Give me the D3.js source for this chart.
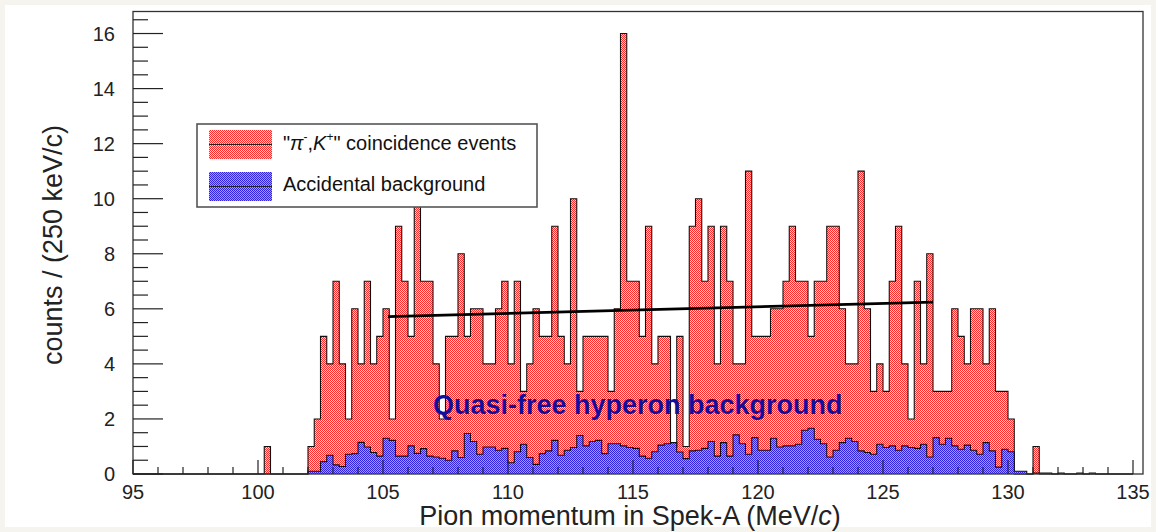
<!DOCTYPE html>
<html>
<head>
<meta charset="utf-8">
<script src="https://cdn.jsdelivr.net/npm/d3@7"></script>
<style>
  body { margin: 0; background: #f6f4ef; }
  svg { display: block; }
</style>
</head>
<body>
<div id="chart"></div>
<script>
// histogram binning (MeV/c)
const axisMin = 95
const axisMax = 135.4
const histMax = 135
const binWidth = 0.25
const firstBin = 100.0 // first listed bin; bins below it are empty

// "pi-,K+" coincidence events, per 250 keV/c bin, from 100.0 MeV/c
const coincidence = [
  0, 1, 0, 0, 0, 0, 0, 0, 1, 2,
  5, 4, 7, 4, 2, 6, 4, 7, 4, 5,
  6, 2, 9, 7, 5, 10, 7, 7, 4, 2,
  5, 5, 8, 5, 6, 6, 4, 4, 6, 7,
  4, 7, 3, 4, 6, 5, 5, 9, 5, 4,
  10, 3, 5, 5, 5, 5, 3, 6, 16, 7,
  7, 5, 9, 4, 5, 5, 1, 5, 1, 9,
  10, 7, 9, 4, 9, 7, 4, 4, 11, 5,
  5, 5, 6, 6, 7, 9, 7, 7, 5, 7,
  7, 9, 9, 6, 4, 4, 11, 6, 3, 4,
  3, 7, 9, 4, 2, 7, 4, 8, 3, 3,
  3, 6, 5, 4, 6, 6, 4, 6, 3, 3,
  2, 0, 0, 0, 1, 0, 0, 0, 0, 0,
  0, 0, 0, 0, 0, 0, 0, 0, 0, 0
]

// accidental background (scaled), same bins
const accidental = [
  0, 0, 0, 0, 0, 0, 0, 0, 0.1, 0.1,
  0.45, 0.68, 0.33, 0.27, 0.72, 0.74, 1.15, 0.98, 0.78, 0.65,
  1.3, 1.22, 0.65, 0.65, 1.02, 0.75, 0.92, 0.65, 0.62, 0.57,
  0.5, 0.84, 0.6, 1.47, 1.18, 0.72, 0.98, 0.98, 0.86, 0.93,
  0.41, 0.81, 1.08, 0.6, 0.35, 0.74, 0.84, 1.22, 0.68, 0.86,
  0.96, 1.4, 1.02, 1.18, 1.22, 0.74, 1.1, 1.1, 1.02, 0.96,
  0.93, 0.65, 0.57, 0.81, 1.05, 1.1, 1.14, 0.8, 0.56, 0.84,
  0.86, 0.93, 1.18, 0.65, 1.14, 0.65, 1.42, 1.1, 0.72, 1.32,
  0.86, 0.86, 1.3, 0.98, 1.02, 1.02, 1.08, 1.59, 1.66, 1.26,
  1.1, 0.62, 0.86, 1.14, 1.3, 1.18, 0.84, 0.78, 0.72, 1.08,
  0.96, 1.02, 0.86, 1.02, 0.96, 0.93, 1.08, 0.62, 1.32, 1.08,
  1.3, 1.02, 0.9, 1.05, 0.86, 0.72, 1.14, 0.84, 0.25, 0.9,
  0.81, 0.1, 0.1, 0, 0.03, 0.03, 0.03, 0, 0.03, 0,
  0, 0.03, 0, 0.03, 0, 0, 0, 0, 0, 0
]

// linear fit drawn over the coincidence spectrum
const fitX = [105.2, 127.0]
const fitY = [5.72, 6.24]

const xTicks = [95, 100, 105, 110, 115, 120, 125, 130, 135]
const yTicks = [0, 2, 4, 6, 8, 10, 12, 14, 16]

const legendLabels = ['coincidence', 'Accidental background']

const width = 1156
const height = 532
const margin = { top: 11.5, right: 13, bottom: 58, left: 133 }

const svg = d3.select('#chart')
  .append('svg')
  .attr('width', width)
  .attr('height', height)
  .style('font-family', '"Liberation Sans", Arial, Helvetica, sans-serif')

svg.append('rect')
  .attr('x', 5).attr('y', 5)
  .attr('width', width - 10).attr('height', height - 10)
  .attr('fill', '#fff')

const defs = svg.append('defs')

function checker(id, bg, fg) {
  const p = defs.append('pattern')
    .attr('id', id)
    .attr('patternUnits', 'userSpaceOnUse')
    .attr('width', 2).attr('height', 2)
  p.append('rect').attr('width', 2).attr('height', 2).attr('fill', bg)
  p.append('rect').attr('x', 0).attr('y', 0).attr('width', 1).attr('height', 1).attr('fill', fg)
  p.append('rect').attr('x', 1).attr('y', 1).attr('width', 1).attr('height', 1).attr('fill', fg)
}
checker('redfill', '#ffd0d0', '#ff2a2a')
checker('bluefill', '#b09ae8', '#3022e0')

const x = d3.scaleLinear()
  .domain([axisMin, axisMax])
  .range([margin.left, width - margin.right])
const y = d3.scaleLinear()
  .domain([0, 16.8])
  .range([height - margin.bottom, margin.top])

const nBins = Math.round((histMax - axisMin) / binWidth)
const offset = Math.round((firstBin - axisMin) / binWidth)

function binsOf(values) {
  const out = []
  for (let i = 0; i < nBins; i++) {
    const k = i - offset
    out.push({ x: axisMin + i * binWidth, v: k >= 0 && k < values.length ? values[k] : 0 })
  }
  out.push({ x: histMax, v: out[out.length - 1].v })
  return out
}

const area = d3.area()
  .curve(d3.curveStepAfter)
  .x((d) => x(d.x))
  .y0(y(0))
  .y1((d) => y(d.v))

const outline = d3.line()
  .curve(d3.curveStepAfter)
  .x((d) => x(d.x))
  .y((d) => y(d.v))

function drawHist(values, fillId) {
  const bins = binsOf(values)
  svg.append('path')
    .datum(bins)
    .attr('d', area)
    .attr('fill', `url(#${fillId})`)
  const line = [{ x: axisMin, v: 0 }].concat(bins, [{ x: histMax, v: 0 }])
  svg.append('path')
    .datum(line)
    .attr('d', outline)
    .attr('fill', 'none')
    .attr('stroke', '#111')
    .attr('stroke-width', 1.1)
}

drawHist(coincidence, 'redfill')
drawHist(accidental, 'bluefill')

// fit line
svg.append('path')
  .datum(fitX.map((v, i) => [v, fitY[i]]))
  .attr('d', d3.line().x((d) => x(d[0])).y((d) => y(d[1])))
  .attr('fill', 'none')
  .attr('stroke', '#000')
  .attr('stroke-width', 2.8)

// frame
svg.append('rect')
  .attr('x', x(axisMin))
  .attr('y', y(16.8))
  .attr('width', x(axisMax) - x(axisMin))
  .attr('height', y(0) - y(16.8))
  .attr('fill', 'none')
  .attr('stroke', '#333')
  .attr('stroke-width', 1.3)

// x axis ticks (drawn inward, ROOT style)
const xAxisG = svg.append('g')
d3.range(axisMin, histMax + 0.001, 1).forEach((t) => {
  const major = t % 5 === 0
  xAxisG.append('line')
    .attr('x1', x(t)).attr('x2', x(t))
    .attr('y1', y(0)).attr('y2', y(0) - (major ? 14 : 7))
    .attr('stroke', '#222').attr('stroke-width', 1.2)
})
xTicks.forEach((t) => {
  xAxisG.append('text')
    .attr('x', x(t)).attr('y', y(0) + 25)
    .attr('text-anchor', 'middle')
    .attr('font-size', 20)
    .attr('fill', '#222')
    .text(t)
})

// y axis ticks
const yAxisG = svg.append('g')
d3.range(0, 16.51, 0.5).forEach((t) => {
  const major = Math.abs(t % 2) < 1e-6
  yAxisG.append('line')
    .attr('x1', x(axisMin)).attr('x2', x(axisMin) + (major ? 30 : 15))
    .attr('y1', y(t)).attr('y2', y(t))
    .attr('stroke', '#222').attr('stroke-width', 1.2)
})
yTicks.forEach((t) => {
  yAxisG.append('text')
    .attr('x', 115).attr('y', y(t) + 7)
    .attr('text-anchor', 'end')
    .attr('font-size', 20)
    .attr('fill', '#222')
    .text(t)
})

// axis titles
const xTitle = svg.append('text')
  .attr('x', 630).attr('y', 525)
  .attr('text-anchor', 'middle')
  .attr('font-size', 27)
  .attr('fill', '#222')
xTitle.append('tspan').text('Pion momentum in Spek-A (MeV/')
xTitle.append('tspan').attr('font-style', 'italic').text('c')
xTitle.append('tspan').text(')')

svg.append('text')
  .attr('transform', 'translate(62,245) rotate(-90)')
  .attr('text-anchor', 'middle')
  .attr('font-size', 27)
  .attr('fill', '#222')
  .text('counts / (250 keV/c)')

// annotation
svg.append('text')
  .attr('x', 433).attr('y', 414)
  .attr('font-size', 27)
  .attr('font-weight', 'bold')
  .attr('fill', '#10109e')
  .text('Quasi-free hyperon background')

// legend
const legend = svg.append('g')
legend.append('rect')
  .attr('x', 197).attr('y', 124)
  .attr('width', 340).attr('height', 83)
  .attr('fill', '#fff')
  .attr('stroke', '#555')
  .attr('stroke-width', 1.6)

const entries = [
  { fill: 'redfill', y: 130 },
  { fill: 'bluefill', y: 172 }
]
entries.forEach((e) => {
  legend.append('rect')
    .attr('x', 209).attr('y', e.y)
    .attr('width', 63).attr('height', 29)
    .attr('fill', `url(#${e.fill})`)
  legend.append('line')
    .attr('x1', 209).attr('x2', 272)
    .attr('y1', e.y + 14.5).attr('y2', e.y + 14.5)
    .attr('stroke', '#222').attr('stroke-width', 1.2)
})

const t1 = legend.append('text')
  .attr('x', 283).attr('y', 150)
  .attr('font-size', 20)
  .attr('fill', '#111')
t1.append('tspan').text('"')
t1.append('tspan').attr('font-style', 'italic').text('π')
t1.append('tspan').attr('font-size', 12).attr('dy', -9).text('-')
t1.append('tspan').attr('dy', 9).text(',')
t1.append('tspan').attr('font-style', 'italic').text('K')
t1.append('tspan').attr('font-size', 12).attr('dy', -9).text('+')
t1.append('tspan').attr('dy', 9).text('" ' + legendLabels[0] + ' events')

legend.append('text')
  .attr('x', 283).attr('y', 191)
  .attr('font-size', 20)
  .attr('fill', '#111')
  .text(legendLabels[1])
</script>
</body>
</html>
